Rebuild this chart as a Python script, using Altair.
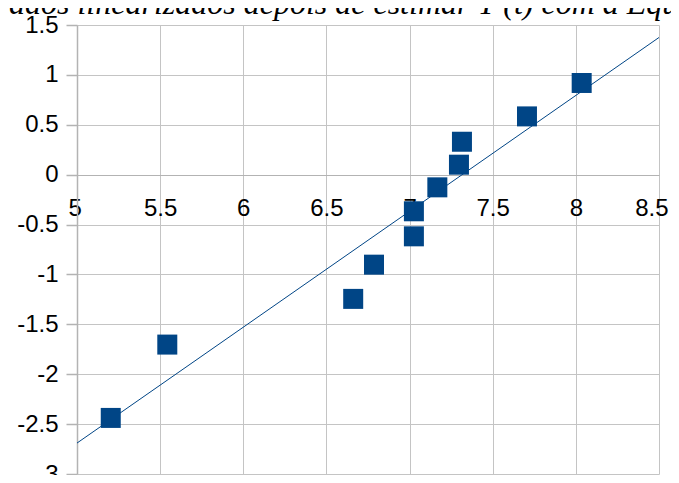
import altair as alt
import pandas as pd

# data
pt_x = [5.203, 5.543, 6.661, 6.786, 7.026, 7.026, 7.167, 7.297, 7.315, 7.706, 8.035]
pt_y = [-2.438, -1.703, -1.245, -0.902, -0.618, -0.367, -0.127, 0.10, 0.33, 0.584, 0.919]
fit_x = [5.0, 8.5]
fit_y = [-2.69, 1.375]
x_ticks = [5, 5.5, 6, 6.5, 7, 7.5, 8, 8.5]
y_ticks = [-3, -2.5, -2, -1.5, -1, -0.5, 0, 0.5, 1, 1.5]
title_text = ["dados linearizados depois de estimar Y (t) com a Equação 3"]

pts = pd.DataFrame({"x": pt_x, "y": pt_y})
fit = pd.DataFrame({"x": fit_x, "y": fit_y})
ttl = pd.DataFrame({"t": title_text})

W, H = 582, 449
BLUE = "#004586"
GRID = "#c4c4c4"
AXIS = "#b3b3b3"
FONT = "Liberation Sans"

xscale = alt.Scale(domain=[5, 8.5], nice=False, zero=False)
yscale = alt.Scale(domain=[-3, 1.5], nice=False, zero=False)

x_grid_axis = alt.Axis(values=x_ticks, grid=True, gridColor=GRID, gridWidth=1,
                       orient="top", labels=False, ticks=False, domain=False,
                       title=None)
y_axis = alt.Axis(values=y_ticks, grid=True, gridColor=GRID, gridWidth=1,
                  labelExpr="'' + datum.value", labelFont=FONT, labelFontSize=24,
                  labelColor="black", labelPadding=8, tickSize=11, tickColor=AXIS,
                  tickWidth=1.5, domain=True, domainColor=AXIS, domainWidth=1.5,
                  title=None)

points = alt.Chart(pts).mark_square(size=400, color=BLUE, opacity=1, filled=True).encode(
    x=alt.X("x:Q", scale=xscale, axis=x_grid_axis),
    y=alt.Y("y:Q", scale=yscale, axis=y_axis),
)

x_label_axis = alt.Axis(values=x_ticks, grid=False, orient="bottom", offset=-299,
                        labelExpr="'' + datum.value", labelFont=FONT, labelFontSize=24,
                        labelColor="black", labelPadding=21, ticks=False,
                        domain=True, domainColor=AXIS, domainWidth=1,
                        title=None, labelFlush=True, labelFlushOffset=9,
                        labelOverlap=False)

line = alt.Chart(fit).mark_line(color=BLUE, strokeWidth=1, clip=True).encode(
    x=alt.X("x:Q", scale=xscale, axis=x_label_axis),
    y=alt.Y("y:Q", scale=yscale, axis=y_axis),
)

title = alt.Chart(ttl).mark_text(font="Liberation Serif", fontStyle="italic",
                                 fontSize=32, color="black", align="left",
                                 baseline="alphabetic").encode(
    x=alt.value(-84),
    y=alt.value(-11.5),
    text="t:N",
)

chart = alt.layer(points, line, title).resolve_axis(x="independent").properties(
    width=W, height=H,
    autosize=alt.AutoSizeParams(type="none"),
    padding={"left": 69, "top": 17, "right": 12, "bottom": 1},
).configure_view(stroke=None)

chart.save("out.html", embed_options={"renderer": "svg", "actions": False})
